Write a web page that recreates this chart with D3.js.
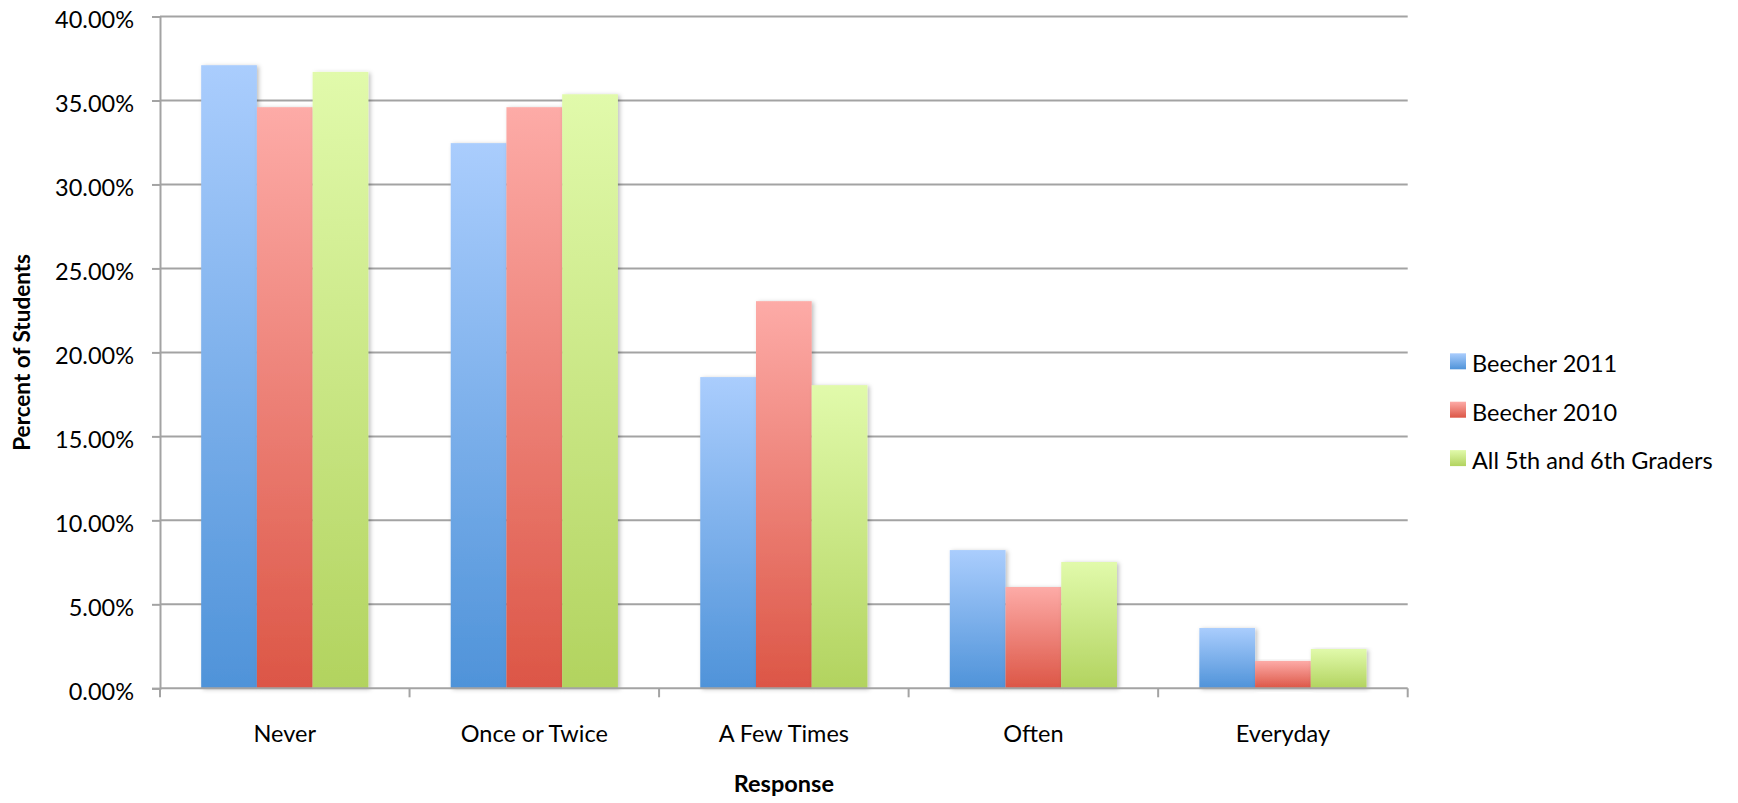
<!DOCTYPE html>
<html>
<head>
<meta charset="utf-8">
<script src="https://cdn.jsdelivr.net/npm/d3@7"></script>
<style>
  html, body { margin: 0; padding: 0; background: #fff; }
  svg { display: block; }
  text { font-family: Lato, "Open Sans", sans-serif; fill: #000; }
</style>
</head>
<body>
<svg id="chart" width="1738" height="803"></svg>
<script>
// ---- data ----
const categories = ["Never", "Once or Twice", "A Few Times", "Often", "Everyday"];
const seriesNames = ["Beecher 2011", "Beecher 2010", "All 5th and 6th Graders"];
const beecher2011 = [0.371, 0.3246, 0.1853, 0.0823, 0.0359];
const beecher2010 = [0.346, 0.346, 0.2305, 0.0603, 0.0163];
const allGraders = [0.367, 0.3537, 0.1805, 0.0752, 0.0234];
const yTicks = [0, 0.05, 0.10, 0.15, 0.20, 0.25, 0.30, 0.35, 0.40];
const seriesValues = [beecher2011, beecher2010, allGraders];

// ---- styles ----
const gradStops = [
  ["#aacdfd", "#4f93d9"],
  ["#fdaba7", "#dc5646"],
  ["#e1faab", "#b2d35f"]
];
const gridColor = "#a3a3a3";

const svg = d3.select("#chart");
const plotLeft = 160, plotRight = 1407.7, plotTop = 16.5, plotBottom = 688.3;

const defs = svg.append("defs");
gradStops.forEach((g, i) => {
  const lg = defs.append("linearGradient").attr("id", "grad" + i)
    .attr("x1", 0).attr("y1", 0).attr("x2", 0).attr("y2", 1);
  lg.append("stop").attr("offset", "0%").attr("stop-color", g[0]);
  lg.append("stop").attr("offset", "100%").attr("stop-color", g[1]);
});
const f = defs.append("filter").attr("id", "shadow")
  .attr("x", "-20%").attr("y", "-5%").attr("width", "150%").attr("height", "115%");
f.append("feDropShadow").attr("dx", 2).attr("dy", 1).attr("stdDeviation", 2)
  .attr("flood-color", "#000").attr("flood-opacity", 0.25);

const y = d3.scaleLinear().domain([0, 0.40]).range([plotBottom, plotTop]);
const x0 = d3.scaleBand().domain(categories).range([plotLeft, plotRight])
  .paddingInner(0.33).paddingOuter(0.165);
const x1 = d3.scaleBand().domain(seriesNames).range([0, x0.bandwidth()]).padding(0);

// gridlines
svg.append("g").selectAll("line").data(yTicks.filter(d => d > 0)).join("line")
  .attr("x1", plotLeft).attr("x2", plotRight)
  .attr("y1", d => y(d)).attr("y2", d => y(d))
  .attr("stroke", gridColor).attr("stroke-width", 2);

// y axis
const yAxis = svg.append("g").attr("transform", `translate(${plotLeft},0)`)
  .call(d3.axisLeft(y).tickValues(yTicks).tickFormat(d3.format(".2%")).tickSize(8).tickPadding(18));
yAxis.select(".domain").attr("stroke", gridColor).attr("stroke-width", 2);
yAxis.selectAll(".tick line").attr("stroke", gridColor).attr("stroke-width", 2);
yAxis.selectAll(".tick text").attr("font-size", "23.5px").attr("dy", "0.46em")
  .style("font-family", "Lato, sans-serif").attr("fill", "#000");

// bars
const groups = svg.append("g").selectAll("g").data(categories).join("g")
  .attr("transform", d => `translate(${x0(d)},0)`);
groups.selectAll("rect")
  .data((d, ci) => seriesNames.map((s, si) => ({ s, si, v: seriesValues[si][ci] })))
  .join("rect")
  .attr("x", d => x1(d.s))
  .attr("y", d => y(d.v))
  .attr("width", x1.bandwidth())
  .attr("height", d => plotBottom - y(d.v))
  .attr("fill", d => `url(#grad${d.si})`)
  .attr("filter", "url(#shadow)");

// x axis
const step = x0.step();
const xAxis = svg.append("g").attr("transform", `translate(0,${plotBottom})`)
  .call(d3.axisBottom(x0).tickSize(0).tickPadding(0));
xAxis.select(".domain").remove();
xAxis.append("line").attr("x1", plotLeft).attr("x2", plotRight).attr("y1", 0).attr("y2", 0)
  .attr("stroke", gridColor).attr("stroke-width", 2);
xAxis.selectAll(".bound").data(d3.range(categories.length + 1)).join("line")
  .attr("class", "bound")
  .attr("x1", i => plotLeft + i * step).attr("x2", i => plotLeft + i * step)
  .attr("y1", 0).attr("y2", 9)
  .attr("stroke", gridColor).attr("stroke-width", 2);
xAxis.selectAll(".tick text").attr("font-size", "23.5px").attr("y", 53.5).attr("dy", 0)
  .style("font-family", "Lato, sans-serif").attr("fill", "#000");

// axis titles
svg.append("text").attr("x", x0(categories[2]) + x0.bandwidth() / 2).attr("y", 792)
  .attr("text-anchor", "middle").attr("font-size", "23.5px").attr("font-weight", "bold")
  .text("Response");
svg.append("text").attr("transform", `translate(29.5,${(plotTop + plotBottom) / 2}) rotate(-90)`)
  .attr("text-anchor", "middle").attr("font-size", "22.5px").attr("font-weight", "bold")
  .text("Percent of Students");

// legend
const legend = svg.append("g").attr("transform", "translate(1450,353.3)");
const li = legend.selectAll("g").data(seriesNames).join("g")
  .attr("transform", (d, i) => `translate(0,${i * 48.4})`);
li.append("rect").attr("width", 16).attr("height", 16)
  .attr("fill", (d, i) => `url(#grad${i})`);
li.append("text").attr("x", 22).attr("y", 19).attr("font-size", "23.5px").text(d => d);
</script>
</body>
</html>
